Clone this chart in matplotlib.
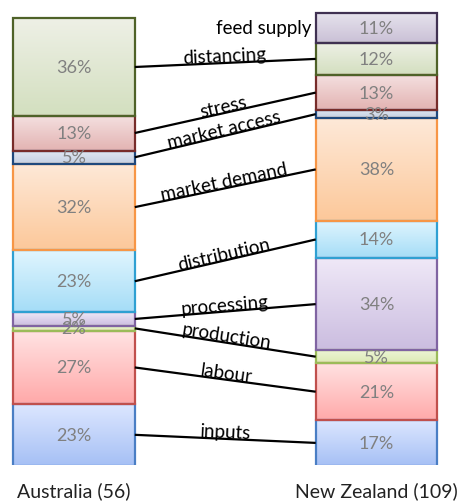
import numpy as np
import matplotlib
matplotlib.use("Agg")
import matplotlib.pyplot as plt
from matplotlib.colors import LinearSegmentedColormap
from matplotlib.patches import Rectangle

# categories from bottom to top of the stacks
categories = ["inputs", "labour", "production", "processing", "distribution",
              "market demand", "market access", "stress", "distancing", "feed supply"]
australia = [23, 27, 2, 5, 23, 32, 5, 13, 36, 0]
new_zealand = [17, 21, 5, 34, 14, 38, 3, 13, 12, 11]
group_labels = ["Australia (56)", "New Zealand (109)"]

# (edge, top fill, bottom fill) per category
styles = [
    ("#4a7ec4", "#dde7ff", "#a6c0f5"),
    ("#c0504d", "#ffe2e2", "#ffa9a9"),
    ("#9bbb59", "#eef5d8", "#dcebb4"),
    ("#8064a2", "#efe8f7", "#cbbde0"),
    ("#2fa0d2", "#e0f5fe", "#a5ddf7"),
    ("#f79646", "#fee9d8", "#fcc89a"),
    ("#1f497d", "#e2e8f2", "#c4d0e3"),
    ("#772c2a", "#f4e0e0", "#e3b3b2"),
    ("#4f6228", "#eef0e6", "#d3dfbf"),
    ("#403152", "#e6e2ec", "#c9c0d6"),
]

plt.rcParams["font.family"] = ["Lato", "DejaVu Sans"]

fig = plt.figure(figsize=(4.6, 5.02), dpi=100)
ax = fig.add_axes([0, 36 / 502, 1, 466 / 502])
ax.axis("off")

width = 0.402
xs = [0, 1]
mids = []
for xi, vals in zip(xs, [australia, new_zealand]):
    bottom = 0
    m = []
    for i, v in enumerate(vals):
        m.append(bottom + v / 2 if v > 0 else None)
        if v > 0:
            edge, top_c, bot_c = styles[i]
            cmap = LinearSegmentedColormap.from_list("g", [bot_c, top_c])
            grad = np.linspace(0, 1, 64).reshape(-1, 1)
            ax.imshow(grad, extent=[xi - width / 2, xi + width / 2, bottom, bottom + v],
                      origin="lower", aspect="auto", cmap=cmap, zorder=2, interpolation="bilinear")
            ax.add_patch(Rectangle((xi - width / 2, bottom), width, v, fill=False,
                                   edgecolor=edge, linewidth=1.6, zorder=3))
        bottom += v
    mids.append(m)
    bottom = 0
    for v in vals:
        if v > 0:
            ax.text(xi, bottom + v / 2, f"{v}%", ha="center", va="center",
                    fontsize=13, color="#808080", zorder=6)
        bottom += v

ax.set_xlim(-74 / 302.5, 386 / 302.5)
ax.set_ylim(0.3, 466 / 2.69)

fig.canvas.draw()
x0, x1 = width / 2, 1 - width / 2
for i, cat in enumerate(categories):
    ya, yn = mids[0][i], mids[1][i]
    if ya is None:
        ax.text(x1 - 0.014, yn, cat, ha="right", va="center", fontsize=13.5, zorder=5)
        continue
    ax.plot([x0, x1], [ya, yn], color="black", linewidth=1.6, zorder=4, solid_capstyle="butt")
    p0 = ax.transData.transform((x0, ya))
    p1 = ax.transData.transform((x1, yn))
    ang = np.degrees(np.arctan2(p1[1] - p0[1], p1[0] - p0[0]))
    off = 1.0
    ax.annotate(cat, xy=((x0 + x1) / 2, (ya + yn) / 2),
                xytext=(-np.sin(np.radians(ang)) * off, np.cos(np.radians(ang)) * off),
                textcoords="offset points", rotation=ang, rotation_mode="anchor",
                ha="center", va="baseline", fontsize=13.5, zorder=5)

for xi, lab in zip(xs, group_labels):
    ax.text(xi, -25 / 466, lab, transform=ax.get_xaxis_transform(), ha="center", va="center",
            fontsize=14, color="#222222")

fig.savefig("out.png", dpi=100)
